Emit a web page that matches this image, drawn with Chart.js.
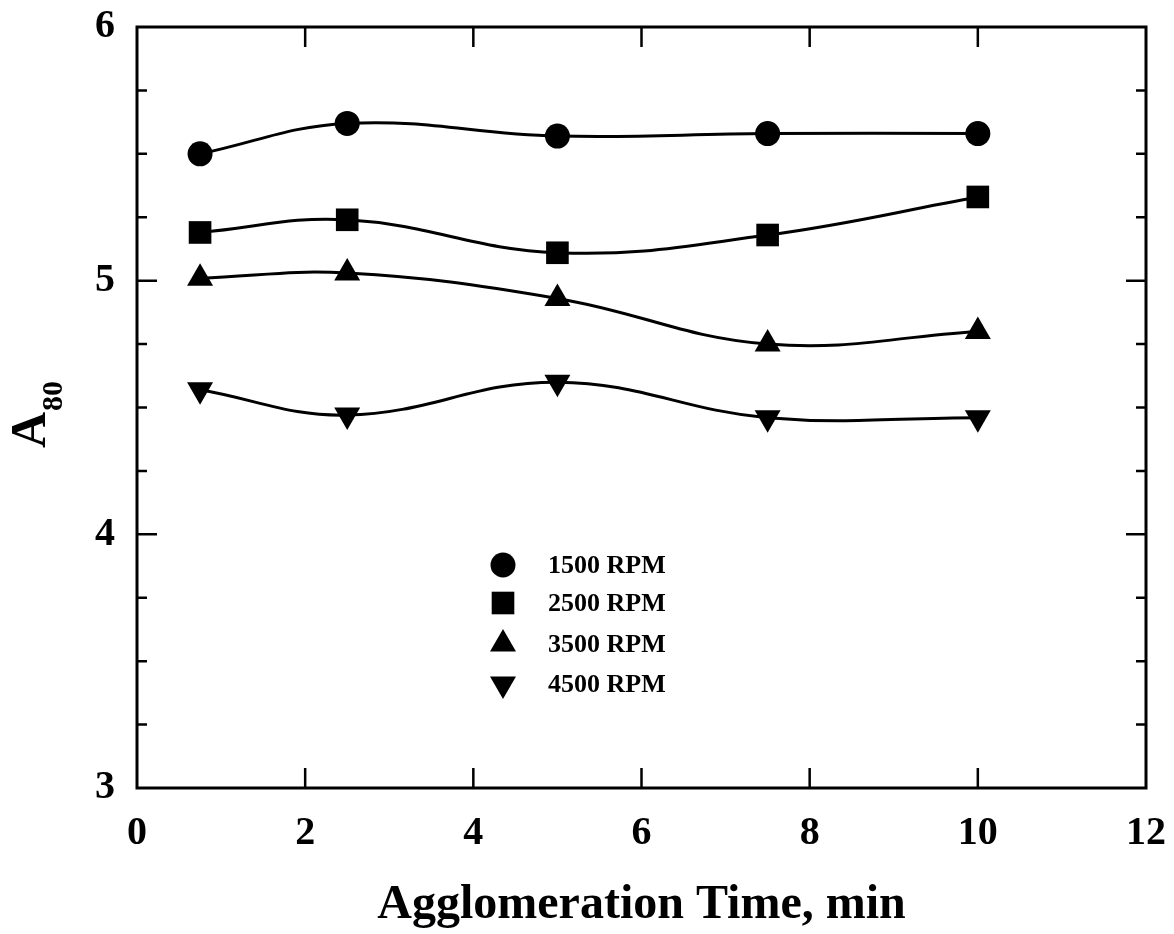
<!DOCTYPE html>
<html>
<head>
<meta charset="utf-8">
<script src="https://cdn.jsdelivr.net/npm/chart.js@4.4.1/dist/chart.umd.min.js"></script>
<style>
html, body { margin: 0; padding: 0; background: #fff; }
#wrap { width: 1174px; height: 934px; }
</style>
</head>
<body>
<div id="wrap"><canvas id="grafico" width="1174" height="934"></canvas></div>
<script>
// agglomeration time (min)
const tempos = [0.75, 2.5, 5, 7.5, 10];
const rotulos = ['1500 RPM', '2500 RPM', '3500 RPM', '4500 RPM'];
const rpm1500 = [5.50, 5.62, 5.57, 5.58, 5.58];
const rpm2500 = [5.19, 5.24, 5.11, 5.18, 5.33];
const rpm3500 = [5.01, 5.03, 4.93, 4.75, 4.80];
const rpm4500 = [4.57, 4.47, 4.60, 4.46, 4.46];
const ticksX = [0, 2, 4, 6, 8, 10, 12];

const serif = "'Liberation Serif', 'Times New Roman', serif";
const estilos = [
  { ponto: 'circle', raio: 12.5, rot: 0 },
  { ponto: 'rect', raio: 16, rot: 0 },
  { ponto: 'triangle', raio: 15, rot: 0 },
  { ponto: 'triangle', raio: 15, rot: 180 }
];

function montarSerie(valores, i) {
  const e = estilos[i];
  return {
    label: rotulos[i],
    data: tempos.map((t, k) => ({ x: t, y: valores[k] })),
    borderColor: '#000',
    backgroundColor: '#000',
    borderWidth: 3,
    tension: 0.4,
    pointStyle: e.ponto,
    pointRadius: e.raio,
    pointRotation: e.rot,
    pointBorderWidth: 0,
    pointHoverRadius: e.raio
  };
}

function marcador(ctx, tipo, x, y, r, rot) {
  ctx.save();
  ctx.translate(x, y);
  ctx.rotate(rot * Math.PI / 180);
  ctx.beginPath();
  if (tipo === 'circle') {
    ctx.arc(0, 0, r, 0, Math.PI * 2);
  } else if (tipo === 'rect') {
    const s = r * Math.SQRT1_2;
    ctx.rect(-s, -s, 2 * s, 2 * s);
  } else {
    ctx.moveTo(0, -r);
    ctx.lineTo(r * Math.sin(2 * Math.PI / 3), r / 2);
    ctx.lineTo(-r * Math.sin(2 * Math.PI / 3), r / 2);
    ctx.closePath();
  }
  ctx.fillStyle = '#000';
  ctx.fill();
  ctx.restore();
}

const moldura = {
  id: 'moldura',
  afterDatasetsDraw(chart) {
    const { ctx, chartArea: a, scales } = chart;
    ctx.save();
    ctx.strokeStyle = '#000';
    ctx.lineWidth = 3;
    ctx.strokeRect(a.left, a.top, a.right - a.left, a.bottom - a.top);

    ctx.lineWidth = 2.5;
    ctx.beginPath();
    scales.y.ticks.forEach(t => {
      const py = scales.y.getPixelForValue(t.value);
      const len = Number.isInteger(t.value) ? 20 : 10;
      if (t.value <= scales.y.min || t.value >= scales.y.max) return;
      ctx.moveTo(a.left, py); ctx.lineTo(a.left + len, py);
      ctx.moveTo(a.right, py); ctx.lineTo(a.right - len, py);
    });
    scales.x.ticks.forEach(t => {
      if (t.value <= scales.x.min || t.value >= scales.x.max) return;
      const px = scales.x.getPixelForValue(t.value);
      ctx.moveTo(px, a.bottom); ctx.lineTo(px, a.bottom - 20);
      ctx.moveTo(px, a.top); ctx.lineTo(px, a.top + 20);
    });
    ctx.stroke();

    // y title A80 with subscript
    ctx.fillStyle = '#000';
    ctx.translate(45, 448);
    ctx.rotate(-Math.PI / 2);
    ctx.textAlign = 'left';
    ctx.textBaseline = 'alphabetic';
    ctx.font = 'bold 50px ' + serif;
    ctx.fillText('A', 0, 0);
    const w = ctx.measureText('A').width;
    ctx.font = 'bold 30px ' + serif;
    ctx.fillText('80', w + 1, 17);
    ctx.restore();

    // legend
    ctx.save();
    ctx.font = 'bold 26px ' + serif;
    ctx.textBaseline = 'middle';
    ctx.fillStyle = '#000';
    const linhas = [565, 603, 644, 684];
    chart.data.datasets.forEach((ds, i) => {
      const e = estilos[i];
      marcador(ctx, e.ponto, 503, linhas[i], e.raio, e.rot);
      ctx.fillText(ds.label, 548, linhas[i] + 1);
    });
    ctx.restore();
  }
};

new Chart(document.getElementById('grafico'), {
  type: 'line',
  data: {
    datasets: [rpm1500, rpm2500, rpm3500, rpm4500].map(montarSerie)
  },
  options: {
    responsive: false,
    animation: false,
    devicePixelRatio: 1,
    layout: { padding: { top: 27, right: 28, left: 0, bottom: 0 } },
    plugins: { legend: { display: false }, tooltip: { enabled: false } },
    scales: {
      x: {
        type: 'linear',
        min: 0,
        max: 12,
        afterBuildTicks: s => { s.ticks = ticksX.map(v => ({ value: v })); },
        afterFit: s => { s.height = 146; s.paddingLeft = 0; s.paddingRight = 0; },
        grid: { display: false, drawTicks: false },
        border: { display: false },
        ticks: {
          color: '#000',
          padding: 22,
          font: { family: serif, size: 40, weight: 'bold' }
        },
        title: {
          display: true,
          text: 'Agglomeration Time, min',
          color: '#000',
          padding: { top: 0, bottom: 0 },
          font: { family: serif, size: 48, weight: 'bold' }
        }
      },
      y: {
        min: 3,
        max: 6,
        afterFit: s => { s.width = 137; s.paddingTop = 0; s.paddingBottom = 0; },
        grid: { display: false, drawTicks: false },
        border: { display: false },
        ticks: {
          stepSize: 0.25,
          autoSkip: false,
          color: '#000',
          padding: 22,
          font: { family: serif, size: 40, weight: 'bold' },
          callback: v => Number.isInteger(v) ? v : ''
        }
      }
    }
  },
  plugins: [moldura]
});
</script>
</body>
</html>
